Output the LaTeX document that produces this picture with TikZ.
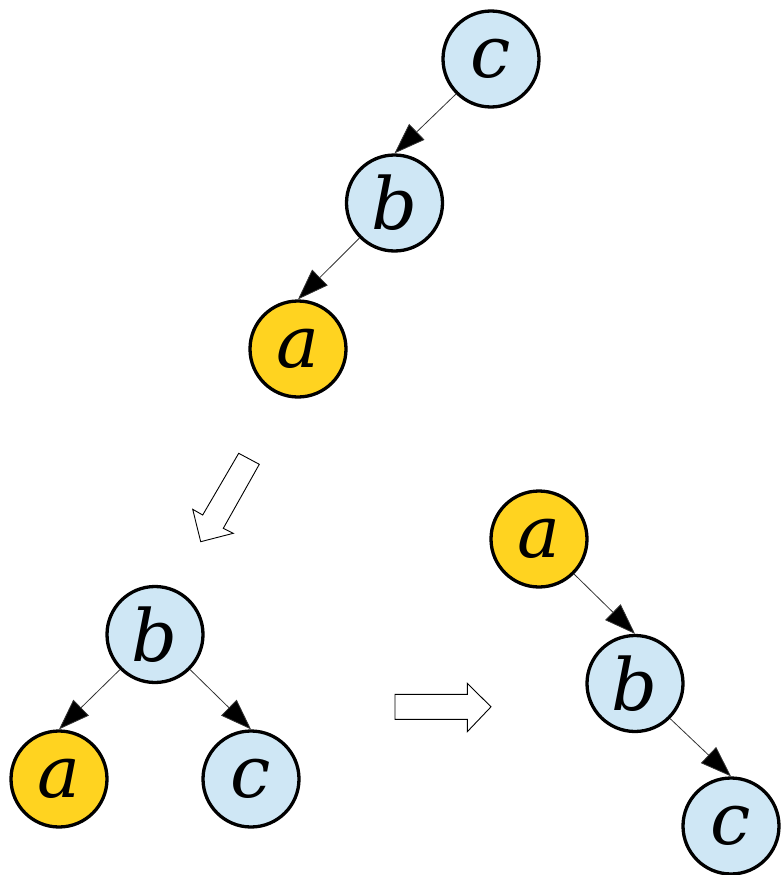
\documentclass[tikz,border=0pt]{standalone}
\usepackage{fontspec}
\newfontfamily\lblfont{DejaVu Serif}
\usetikzlibrary{arrows.meta}
\definecolor{nodeblue}{HTML}{CFE7F5}
\definecolor{nodeyellow}{HTML}{FFD320}
\tikzset{
  x=1pt, y=-1pt,
  tnode/.style={circle, draw=black, line width=3.3pt, minimum size=96pt, inner sep=0pt,
    font=\lblfont\itshape\fontsize{72}{76}\selectfont},
  bluenode/.style={tnode, fill=nodeblue},
  yellownode/.style={tnode, fill=nodeyellow},
  edge/.style={line width=0.8pt, draw=black!80, -{Triangle[length=31pt, width=22pt, fill=black]}},
  hollow/.style={draw=black, line width=0.9pt, fill=white, line join=miter}
}
\begin{document}
\begin{tikzpicture}
\useasboundingbox (0,0) rectangle (782,875);
% top chain
\node[bluenode] (c1) at (491,59) {c};
\node[bluenode] (b1) at (394.5,203) {b};
\node[yellownode] (a1) at (298,349) {a};
\draw[edge] (c1.south west) -- (b1.north);
\draw[edge] (b1.south west) -- (a1.north);
% balanced tree
\node[bluenode] (b2) at (155,634.5) {b};
\node[yellownode] (a2) at (59,779) {a};
\node[bluenode] (c2) at (251,779) {c};
\draw[edge] (b2.south west) -- (a2.north);
\draw[edge] (b2.south east) -- (c2.north);
% right chain
\node[yellownode] (a3) at (539,539) {a};
\node[bluenode] (b3) at (635,683.5) {b};
\node[bluenode] (c3) at (731,826) {c};
\draw[edge] (a3.south east) -- (b3.north);
\draw[edge] (b3.south east) -- (c3.north);
% hollow arrows
\draw[hollow] (238.7,453.3) -- (259.3,464.3) -- (223.3,528.3) -- (233.3,533.3)
  -- (200.7,541.7) -- (192.7,509.3) -- (202.7,515) -- cycle;
\draw[hollow] (395,694.3) -- (467.3,694.3) -- (467.3,683.3) -- (491,706.8)
  -- (467.3,731.7) -- (467.3,719.3) -- (395,719.3) -- cycle;
\end{tikzpicture}
\end{document}
